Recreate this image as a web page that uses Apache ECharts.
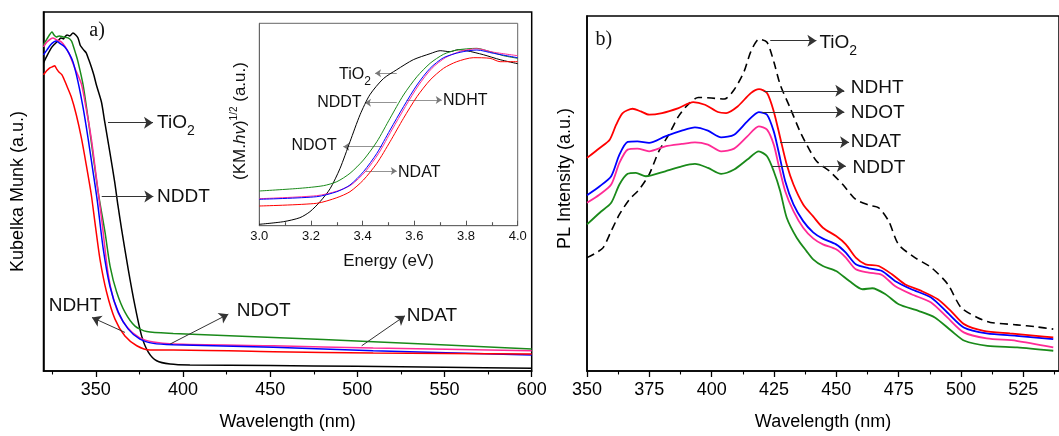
<!DOCTYPE html>
<html><head><meta charset="utf-8">
<script src="https://cdn.jsdelivr.net/npm/echarts@6/dist/echarts.min.js"></script>
<style>html,body{margin:0;padding:0;background:#fff}#c{width:1059px;height:436px}</style>
</head><body><div id="c"></div>
<script>
// ---------- Panel a: Kubelka-Munk vs wavelength (nm) ----------
const uvTiO2 = [[320,309],[322,316],[324.5,324],[326.5,328],[328.3,331],[330,334],[331.5,333],[332.2,335],[333.5,337],[335,336],[336.9,339],[338.5,337],[339.8,334],[341,327],[341.7,325],[343,322],[344.5,319],[346,312],[347.4,305],[349,296],[350.3,287],[353.2,270],[355.1,250],[358,220],[360.8,190],[362.7,166],[364.8,142],[368.6,102],[372.5,65],[376.3,35],[380.1,19],[384.9,10.3],[392.6,7],[404,6],[450,5.5],[499.6,4.7],[550,3.7],[600,2.7]];
const uvNDDT = [[320,327],[322,333],[324.9,340],[326,337],[327.3,335],[329,336],[331.2,335],[334.1,334],[336,331],[336.9,327],[338.5,318],[339.8,310],[342.7,287],[345.5,254],[348.4,217],[351.3,180],[355.3,139],[358.2,105],[362,79],[366.7,59],[372.5,45],[379.2,39.5],[394.4,37.7],[451.8,33.7],[509.1,29.3],[600,22]];
const uvNDOT = [[320,317],[322,322],[324,327],[326,330],[327.3,331],[329,329],[332.2,325],[334.5,319],[336.9,310],[339.8,290],[342.7,264],[345.5,234],[348.4,200],[350.9,170],[354.3,122],[358.1,85],[362.9,59],[368.6,42],[375.3,32],[383,27.7],[394.4,26.3],[451.8,23.7],[509.1,20.3],[600,16]];
const uvNDAT = [[320,325],[322,330],[325.4,334],[327.5,332],[330.2,330],[332.5,325],[335,317],[337.9,304],[341.7,288],[344.6,262],[347.5,232],[350.1,197],[353.5,150],[357.3,95],[362,62],[368,44],[375,33.5],[383,29],[394.4,27],[451.8,25.3],[509.1,23],[600,20.3]];
const uvNDHT = [[320,297],[321.8,301],[323.6,304],[325,305],[326.4,306],[327.5,303],[328.7,300],[330.6,297],[333.1,287],[335.9,275],[338.8,257],[341.7,234],[344.5,207],[347.4,177],[349.5,149],[352.4,112],[356.2,79],[361,52],[366.7,35],[373.5,25.3],[381.1,21],[394.4,21],[451.8,19.3],[509.1,18],[600,17]];
const uvTicks = [350,400,450,500,550,600];
const uvMinorTicks = [325,375,425,475,525,575];

// ---------- Inset: (KM.hv)^1/2 vs energy (eV) ----------
const tcTiO2 = [[3.0,1.4],[3.093,4],[3.157,8],[3.196,14],[3.235,24],[3.274,37],[3.312,57],[3.351,84],[3.39,111],[3.428,131],[3.48,147],[3.532,156],[3.596,166],[3.661,172],[3.7,175],[3.738,174],[3.77,176],[3.803,175],[3.867,171],[3.932,166],[4.0,162]];
const tcNDDT = [[3.0,34.7],[3.157,37.4],[3.248,40],[3.3,44],[3.351,52.4],[3.403,65.7],[3.455,84],[3.506,107.4],[3.558,130.7],[3.61,149],[3.661,162.4],[3.713,171.4],[3.764,175.7],[3.842,177.4],[3.893,174],[3.945,170],[4.0,167.4]];
const tcNDOT = [[3.0,26.4],[3.222,29],[3.3,34],[3.351,40.7],[3.403,54],[3.455,72.4],[3.506,95.7],[3.558,119],[3.61,140.7],[3.661,157.4],[3.713,168],[3.777,173.4],[3.842,175.7],[3.906,172.4],[4.0,168]];
const tcNDAT = [[3.0,27],[3.222,30],[3.3,34.5],[3.355,40.7],[3.41,54],[3.462,72.4],[3.513,95.7],[3.565,119],[3.617,140.7],[3.668,157.4],[3.72,168],[3.78,174.5],[3.842,177],[3.906,173.5],[4.0,170]];
const tcNDHT = [[3.0,19.7],[3.222,22.4],[3.3,28],[3.351,34],[3.403,45.7],[3.455,62.4],[3.506,84],[3.558,107.4],[3.61,129],[3.661,145.7],[3.713,157.4],[3.764,164],[3.828,168],[3.893,167.4],[3.932,164],[4.0,164]];
const tcTicks = [3.0,3.2,3.4,3.6,3.8,4.0];
const tcMinorTicks = [3.1,3.3,3.5,3.7,3.9];

// ---------- Panel b: PL intensity vs wavelength (nm) ----------
const plTiO2 = [[350,113.7],[353.8,118.7],[356.5,123.7],[359.7,140.3],[363,157],[367,172],[370.9,182],[374.9,197],[378.8,220.3],[382.8,237],[386.7,255.3],[390.7,267.7],[394.6,274.3],[399.9,273.7],[405.1,272.7],[409,282],[413,300.3],[415.7,320.3],[419,332.7],[422.2,329.7],[424.9,310.3],[427.5,287],[431.5,263.7],[435.4,240.3],[438.1,227],[442.1,210.3],[447.3,200.3],[452.6,187],[457.8,172],[463.1,166.3],[467,163.7],[471,150.3],[474.9,127],[481.5,113.7],[488.1,103.7],[494.7,87],[500,63.7],[506.5,53.7],[511.8,48.7],[522.3,46.3],[530.2,44.3],[537,42]];
const plNDHT = [[350,213.7],[355.1,223.7],[359.1,232],[361.7,247],[364.3,258.7],[368.3,263],[371.6,260.3],[374.9,257],[380.1,258.7],[386.7,263.7],[392.6,269.7],[397.3,267],[402.5,259.7],[405.8,258.7],[410.4,265.3],[415.7,278.7],[419,282.7],[422.2,278.7],[424.9,260.3],[427.5,233.7],[430.1,207],[432.8,187],[436.7,167],[440.7,155],[444.6,143.7],[449.9,135.3],[453.8,127],[457.8,113.7],[461.7,107],[467,105.3],[472.3,97],[477.5,87],[484.1,80.3],[490.7,72],[495.9,60.3],[501.2,47],[509.1,40.3],[519.6,37.7],[530.1,35.3],[537,33.7]];
const plNDOT = [[350,176.3],[355.1,185.3],[359.7,195.3],[363,217],[366.3,229.7],[370.2,230.3],[374.9,228.7],[381.4,235.3],[388,241],[393.3,244.3],[398.5,241],[403.8,234.3],[409,237],[414.3,250.3],[418.9,259.7],[422.2,257],[424.9,240.3],[426.8,220.3],[429.5,190.3],[432.8,167],[436.7,150.3],[440.7,139],[444.6,132.7],[449.9,127],[453.8,118.7],[457.8,107],[463,103],[468.3,100.3],[473.5,90.3],[480.1,82],[488,73.7],[494.5,58.7],[501.1,43.7],[510.3,37.7],[522.2,35.3],[537,32]];
const plNDAT = [[350,168.7],[355.1,177],[359.7,187],[363,208.7],[366.3,222],[370.2,223],[374.9,220.3],[381.4,225.3],[388,227.7],[393.3,229.3],[398.5,227],[403.8,220.3],[409,223],[414.3,235.3],[418.9,245.3],[422.2,242],[424.9,227],[426.8,207],[429.5,180.3],[432.8,160.3],[436.7,143.7],[440.7,133],[444.6,127],[449.9,122],[453.8,113.7],[457.8,102],[463,98.7],[468.3,96.3],[473.5,85.3],[480.1,77],[488,68.7],[494.5,53.7],[501.1,38.7],[510.3,32.7],[522.2,30.3],[537,23.7]];
const plNDDT = [[350,147],[355.1,158.7],[359.7,168.7],[363,187],[366.3,197.7],[369.6,198.7],[373.6,195.3],[381.4,200.3],[388,205.3],[393.3,207.7],[398.5,203.7],[403.8,197.7],[409,202],[414.3,212],[418.9,220.3],[422.2,215.3],[424.9,200.3],[427.5,180.3],[430.1,153.7],[434.1,133.7],[438.1,120],[440.7,112],[444.6,105.3],[449.9,100.3],[455.2,90.3],[460.5,82],[464.4,83],[469.7,77],[475,67],[482.9,60.3],[489.5,53.7],[496.1,40.3],[501.4,30.3],[510.6,25.3],[522.5,23.7],[537,20.3]];
const plTicks = [350,375,400,425,450,475,500,525];
const plMinorTicks = [362.5,387.5,412.5,437.5,462.5,487.5,512.5,537.5];

// ---------- Annotations (data coordinates) ----------
const arrowsA = [[357.0,249,382.8,249],[353.4,175,383.0,175],[366.7,38.7,347.8,53.7],[392.6,27,426.0,57],[502.5,25.3,527.3,55.3]];
const arrowsInset = [[3.532,152.4,3.448,152.4],[3.532,123,3.409,123],[3.570,125.7,3.706,125.7],[3.474,79,3.325,79],[3.409,54.7,3.532,54.7]];
const arrowsB = [[423.5,331.3,442.0,331.3],[420.9,281,453.2,281],[420.3,259.7,453.2,259.7],[427.5,229.3,455.1,229.3],[424.2,205.7,453.8,205.7]];
const labelsA = [['TiO2',385.1,249,'left'],['NDDT',385.1,175,'left'],['NDHT',338.1,65,'center'],['NDOT',430.8,60,'left'],['NDAT',528.3,55.3,'left']];
const labelsInset = [['TiO2',3.432,150.7,'right'],['NDDT',3.396,123,'right'],['NDHT',3.711,124.7,'left'],['NDOT',3.300,80,'right'],['NDAT',3.537,53.4,'left']];
const labelsB = [['TiO2',443.2,329,'left'],['NDHT',455.8,284,'left'],['NDOT',455.8,259,'left'],['NDAT',455.8,230.3,'left'],['NDDT',456.5,204,'left']];
const panelTags = [['a)',0,350.7,341],['b)',10,356.7,332]];

const SANS = 'Liberation Sans, Arial, sans-serif';
const SERIF = 'Liberation Serif, Times New Roman, serif';
const RED = '#ff0000', BLUE = '#0000ff', GREEN = '#1a8a1a', PINK = '#ff2b96', BLACK = '#000000';

function lineSeries(data, color, xi, yi, width, extra) {
  return Object.assign({
    type: 'line', data: data, xAxisIndex: xi, yAxisIndex: yi,
    showSymbol: false, symbol: 'none', smooth: 0.25, silent: true,
    lineStyle: { color: color, width: width }, itemStyle: { color: color }, z: 3
  }, extra || {});
}
function arrowMark(arrows, color, width, size) {
  return {
    silent: true, symbol: ['none', 'arrow'], symbolSize: size,
    lineStyle: { color: color, width: width, type: 'solid' },
    itemStyle: { color: color },
    label: { show: false }, emphasis: { disabled: true },
    data: arrows.map(a => [{ coord: [a[0], a[1]] }, { coord: [a[2], a[3]] }])
  };
}
function bottomAxis(grid, min, max, ticks, opts) {
  return Object.assign({
    type: 'value', gridIndex: grid, min: min, max: max, position: 'bottom',
    axisLine: { show: true, onZero: false, lineStyle: { color: '#000', width: 1.5 } },
    axisTick: { show: true, customValues: ticks, length: 6, lineStyle: { color: '#000', width: 1.3 } },
    axisLabel: { show: true, customValues: ticks, fontSize: 18, color: '#000', fontFamily: SANS, margin: 10 },
    splitLine: { show: false }, minorTick: { show: false }
  }, opts || {});
}
function minorAxis(grid, min, max, ticks, inside, color) {
  return {
    type: 'value', gridIndex: grid, min: min, max: max, position: 'bottom', offset: 0,
    axisLine: { show: true, onZero: false, lineStyle: { color: color, width: 1, opacity: 0 } },
    axisTick: { show: true, inside: inside, customValues: ticks, length: 3.5, lineStyle: { color: color, width: 1.1 } },
    axisLabel: { show: false }, splitLine: { show: false }
  };
}

const option = {
  animation: false,
  backgroundColor: '#ffffff',
  grid: [
    { left: 43.5, top: 12, width: 488.2, height: 359.7, show: true, borderColor: '#000', borderWidth: 1.5, backgroundColor: '#fff' },
    { left: 259.3, top: 23.3, width: 258.4, height: 202.4, show: true, borderColor: '#666', borderWidth: 1, backgroundColor: '#fff' },
    { left: 587, top: 16, width: 479.4, height: 355.7, show: true, borderColor: '#000', borderWidth: 1.5, backgroundColor: '#fff' }
  ],
  xAxis: [
    bottomAxis(0, 320, 600, uvTicks, { name: 'Wavelength (nm)', nameLocation: 'middle', nameGap: 42, nameTextStyle: { fontSize: 18, color: '#000', fontFamily: SANS } }),
    minorAxis(0, 320, 600, uvMinorTicks, false, '#000'),
    bottomAxis(1, 3.0, 4.0, tcTicks, {
      axisLine: { show: true, onZero: false, lineStyle: { color: '#666', width: 1 } },
      axisTick: { show: true, inside: true, customValues: tcTicks, length: 5, lineStyle: { color: '#555', width: 1 } },
      axisLabel: { show: true, customValues: tcTicks, fontSize: 13, color: '#111', fontFamily: SANS, margin: 4, formatter: v => Number(v).toFixed(1) },
      name: 'Energy (eV)', nameLocation: 'middle', nameGap: 27, nameTextStyle: { fontSize: 17, color: '#111', fontFamily: SANS }
    }),
    minorAxis(1, 3.0, 4.0, tcMinorTicks, true, '#555'),
    bottomAxis(2, 350, 539.3, plTicks, { name: 'Wavelength (nm)', nameLocation: 'middle', nameGap: 42, nameTextStyle: { fontSize: 18, color: '#000', fontFamily: SANS } }),
    minorAxis(2, 350, 539.3, plMinorTicks, false, '#000')
  ],
  yAxis: [
    { type: 'value', gridIndex: 0, min: 0, max: 360,
      axisLine: { show: true, onZero: false, lineStyle: { color: '#000', width: 1.5 } }, axisTick: { show: false }, axisLabel: { show: false }, splitLine: { show: false },
      name: 'Kubelka Munk (a.u.)', nameLocation: 'middle', nameRotate: 90, nameGap: 16, nameTextStyle: { fontSize: 18, color: '#000', fontFamily: SANS } },
    { type: 'value', gridIndex: 1, min: 0, max: 202.4,
      axisLine: { show: true, onZero: false, lineStyle: { color: '#666', width: 1 } }, axisTick: { show: false }, axisLabel: { show: false }, splitLine: { show: false },
      name: '{n|(KM.}{i|hv}{n|)}{s|1/2}{n| (a.u.)}', nameLocation: 'middle', nameRotate: 90, nameGap: 8,
      nameTextStyle: { fontSize: 17, color: '#111', fontFamily: SANS, padding: [0, 0, 0, 7],
        rich: { n: { fontSize: 17, lineHeight: 22, fontFamily: SANS, color: '#111' },
                i: { fontSize: 17, lineHeight: 22, fontStyle: 'italic', fontFamily: SANS, color: '#111' },
                s: { fontSize: 10, lineHeight: 10, verticalAlign: 'top', fontFamily: SANS, color: '#111' } } } },
    { type: 'value', gridIndex: 2, min: 0, max: 356,
      axisLine: { show: true, onZero: false, lineStyle: { color: '#000', width: 1.5 } }, axisTick: { show: false }, axisLabel: { show: false }, splitLine: { show: false },
      name: 'PL Intensity (a.u.)', nameLocation: 'middle', nameRotate: 90, nameGap: 13, nameTextStyle: { fontSize: 18, color: '#000', fontFamily: SANS, padding: [0, 0, 0, 30] } }
  ],
  series: [
    lineSeries(uvTiO2, BLACK, 0, 0, 1.5, { markLine: arrowMark(arrowsA, '#333', 1, 9) }),
    lineSeries(uvNDDT, GREEN, 0, 0, 1.5),
    lineSeries(uvNDAT, PINK, 0, 0, 1.5),
    lineSeries(uvNDOT, BLUE, 0, 0, 1.5),
    lineSeries(uvNDHT, RED, 0, 0, 1.5),
    lineSeries(tcTiO2, BLACK, 2, 1, 1, { markLine: arrowMark(arrowsInset, '#777', 0.8, 6), z: 6 }),
    lineSeries(tcNDDT, GREEN, 2, 1, 1, { z: 6 }),
    lineSeries(tcNDAT, PINK, 2, 1, 1, { z: 6 }),
    lineSeries(tcNDOT, BLUE, 2, 1, 1, { z: 6 }),
    lineSeries(tcNDHT, RED, 2, 1, 1, { z: 6 }),
    lineSeries(plTiO2, BLACK, 4, 2, 1.6, { lineStyle: { color: BLACK, width: 1.6, type: [8, 5] }, markLine: arrowMark(arrowsB, '#333', 1, 9) }),
    lineSeries(plNDDT, GREEN, 4, 2, 1.8),
    lineSeries(plNDAT, PINK, 4, 2, 1.8),
    lineSeries(plNDOT, BLUE, 4, 2, 1.8),
    lineSeries(plNDHT, RED, 4, 2, 1.8)
  ]
};

const chart = echarts.init(document.getElementById('c'), null, { renderer: 'canvas' });
chart.setOption(option);

function textGraphic(seriesIndex, name, x, y, align, size) {
  const p = chart.convertToPixel({ seriesIndex: seriesIndex }, [x, y]);
  const isTi = name === 'TiO2';
  const sub = Math.round(size * 0.72);
  const text = isTi ? '{m|TiO}{s|2}' : '{m|' + name + '}';
  return {
    type: 'text', x: p[0], y: p[1], silent: true, z: 100,
    style: {
      text: text, align: align, verticalAlign: 'middle', textAlign: align, textVerticalAlign: 'middle',
      fontSize: size, fontFamily: SANS, fill: '#111',
      rich: {
        m: { fontSize: size, lineHeight: Math.round(size * 1.6), fontFamily: SANS, fill: '#111', color: '#111' },
        s: { fontSize: sub, lineHeight: sub, verticalAlign: 'bottom', fontFamily: SANS, fill: '#111', color: '#111' }
      }
    }
  };
}
const graphics = [];
labelsA.forEach(l => graphics.push(textGraphic(0, l[0], l[1], l[2], l[3], 19)));
labelsInset.forEach(l => graphics.push(textGraphic(5, l[0], l[1], l[2], l[3], 16)));
labelsB.forEach(l => graphics.push(textGraphic(10, l[0], l[1], l[2], l[3], 19)));
panelTags.forEach(t => {
  const p = chart.convertToPixel({ seriesIndex: t[1] }, [t[2], t[3]]);
  graphics.push({ type: 'text', x: p[0], y: p[1], silent: true, z: 100,
    style: { text: t[0], align: 'center', verticalAlign: 'middle', textAlign: 'center', textVerticalAlign: 'middle', fontSize: 20, fontFamily: SERIF, fill: '#111' } });
});
chart.setOption({ graphic: graphics });
</script></body></html>
